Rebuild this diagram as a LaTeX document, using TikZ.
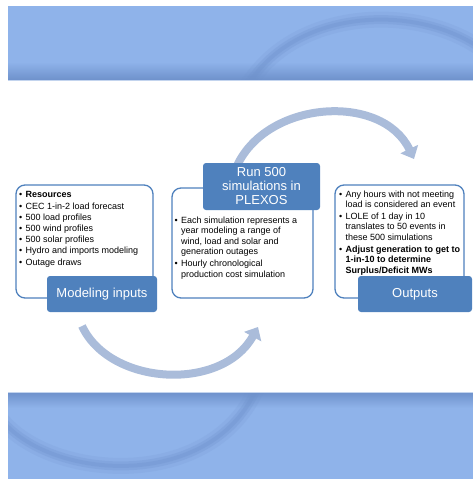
\documentclass[tikz,border=0pt]{standalone}
\usepackage{fontspec}
\setmainfont{Liberation Sans}
\usetikzlibrary{arrows.meta}
\definecolor{band}{HTML}{8FB3EA}
\definecolor{banddark}{HTML}{6E91CB}
\definecolor{bandline}{HTML}{C3D4EE}
\definecolor{acc}{HTML}{4F81BD}
\definecolor{flow}{HTML}{AABCDA}
\newcommand{\bl}{\makebox[6.5pt][l]{\textbullet}}
\newcommand{\ind}{\hspace*{6.5pt}}
\begin{document}
\begin{tikzpicture}[x=1pt,y=-1pt,
  panel/.style={draw=acc, line width=1.3pt, rounded corners=9pt, fill=white, inner sep=0pt},
  tag/.style={fill=acc, rounded corners=3pt, text=white, font=\fontsize{13}{14}\selectfont, align=center, inner sep=0pt},
  body/.style={anchor=north west, align=left, inner sep=0pt, text=black},
  flowarrow/.style={draw=flow, line width=8pt, -{Triangle[width=19pt,length=11pt]}},
  deco/.style={draw=banddark, line cap=round}
]
\useasboundingbox (0,0) rectangle (473,479);
% top band
\fill[band] (8,6) rectangle (473,80);
\shade[top color=band, bottom color=banddark] (8,62) rectangle (473,80);
\begin{scope}
  \clip (8,6) rectangle (473,80);
  \draw[deco, line width=16pt, opacity=0.15] (240,100) .. controls (280,10) and (410,0) .. (480,48);
  \draw[deco, line width=9pt, opacity=0.25] (240,100) .. controls (280,10) and (410,0) .. (480,48);
  \draw[deco, line width=4pt, opacity=0.3] (240,100) .. controls (280,10) and (410,0) .. (480,48);
\end{scope}
\draw[bandline, line width=1.2pt] (8,80.5) -- (473,80.5);
% bottom band
\fill[band] (8,392) rectangle (473,479);
\shade[top color=banddark, bottom color=band] (8,392) rectangle (473,408);
\begin{scope}
  \clip (8,392) rectangle (473,479);
  \draw[deco, line width=16pt, opacity=0.15] (0,418) .. controls (50,482) and (215,492) .. (258,385);
  \draw[deco, line width=9pt, opacity=0.25] (0,418) .. controls (50,482) and (215,492) .. (258,385);
  \draw[deco, line width=4pt, opacity=0.3] (0,418) .. controls (50,482) and (215,492) .. (258,385);
\end{scope}
\draw[bandline, line width=0.8pt] (8,392) -- (473,392);
% flow arrows
\coordinate (ta) at (236,168);
\coordinate (tb) at (414,159);
\coordinate (ba) at (82,326);
\coordinate (bb) at (258,327);
\draw[flowarrow] (ta) .. controls (265,100) and (382,92) .. (tb);
\draw[flowarrow] (ba) .. controls (110,386) and (222,392) .. (bb);
% panels
\node[panel, minimum width=137pt, minimum height=113pt] (pin) at (84.5,241.5) {};
\node[panel, minimum width=141pt, minimum height=110pt] (psim) at (242.5,243) {};
\node[panel, minimum width=129pt, minimum height=113pt] (pout) at (399.5,241.5) {};
% tags
\node[tag, minimum width=110pt, minimum height=36pt] (tin) at (102,294) {Modeling inputs};
\node[tag, minimum width=117pt, minimum height=47pt] (tsim) at (261.5,186.5) {Run 500\\simulations in\\PLEXOS};
\node[tag, minimum width=114pt, minimum height=36pt] (tout) at (415,294) {Outputs};
% texts
\node[body, font=\fontsize{9}{11.2}\selectfont] (xin) at (19,189.8) {\strut\bl\textbf{Resources}\\
\bl CEC 1-in-2 load forecast\\
\bl 500 load profiles\\
\bl 500 wind profiles\\
\bl 500 solar profiles\\
\bl Hydro and imports modeling\\
\bl Outage draws};
\node[body, font=\fontsize{9}{10.6}\selectfont] (xsim) at (174.5,215.5) {\strut\bl Each simulation represents a\\
\ind year modeling a range of\\
\ind wind, load and solar and\\
\ind generation outages\\[1pt]
\bl Hourly chronological\\
\ind production cost simulation};
\node[body, font=\fontsize{9}{10.6}\selectfont] (xout) at (339,189.5) {\strut\bl Any hours with not meeting\\
\ind load is considered an event\\[1pt]
\bl LOLE of 1 day in 10\\
\ind translates to 50 events in\\
\ind these 500 simulations\\[1pt]
\bl\textbf{Adjust generation to get to}\\
\ind\textbf{1-in-10 to determine}\\
\ind\textbf{Surplus/Deficit MWs}};
\end{tikzpicture}
\end{document}
